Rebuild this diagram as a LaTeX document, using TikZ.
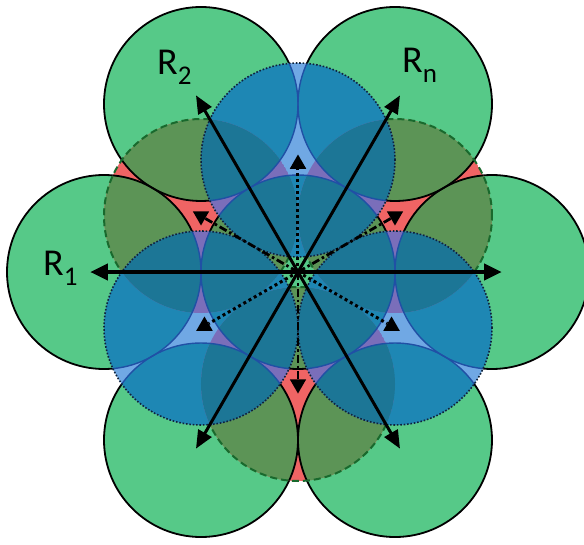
\documentclass[tikz,border=0pt]{standalone}
\usepackage{fontspec}
\setmainfont{Carlito}
\usetikzlibrary{arrows.meta,shapes.geometric}
\definecolor{gfill}{RGB}{86,201,136}
\definecolor{olivef}{RGB}{92,148,86}
\definecolor{redf}{RGB}{240,100,100}
\definecolor{bluef}{RGB}{30,135,180}
\definecolor{lbluef}{RGB}{112,168,228}
\definecolor{purplef}{RGB}{122,110,186}
\definecolor{tealf}{RGB}{28,118,150}
\definecolor{bline}{RGB}{32,80,165}
\definecolor{dashg}{RGB}{25,105,45}
\definecolor{dotb}{RGB}{15,35,60}
\newcommand\allcircles[1]{%
  \path[#1] (0,0) circle (97);
  \foreach \k in {0,60,...,300}{\path[#1] (\k:194) circle (97);}%
}
\newcommand\mysub[1]{\raisebox{-10pt}{\fontsize{27}{30}\selectfont #1}}
\begin{document}
\begin{tikzpicture}[x=1pt,y=1pt,
  lensred/.style={draw=dashg,line width=2pt,dash pattern=on 7pt off 4pt},
  lensblue/.style={draw=dotb,line width=1.6pt,dash pattern=on 1.6pt off 1.8pt},
  redmark/.style={regular polygon,regular polygon sides=3,shape border rotate=180,fill=black,minimum size=19pt,inner sep=0pt},
  bluemark/.style={regular polygon,regular polygon sides=3,fill=black,minimum size=19pt,inner sep=0pt},
  toRed/.style={draw=black,line width=2.8pt,dash pattern=on 8pt off 3pt on 2.5pt off 3pt},
  toBlue/.style={draw=black,line width=3pt,dash pattern=on 3pt off 3pt},
  diag/.style={draw=black,line width=3pt,-{Triangle[length=18pt,width=15pt]}},
  horiz/.style={draw=black,line width=4.5pt,-{Triangle[length=18pt,width=16pt]}},
  lab/.style={anchor=base west,inner sep=0pt,font=\fontsize{38}{40}\selectfont}]
\fill[white] (-298,-272) rectangle (286,272);
\useasboundingbox (-298,-272) rectangle (286,272);
% base circles
\allcircles{fill=gfill}
\allcircles{draw=black,line width=1.8pt}
% red lenses
\foreach \a in {30,150,270}{
  \begin{scope}
    \clip (\a:112) circle (97);
    \fill[redf] (\a:112) circle (97);
    \allcircles{fill=olivef}
    \allcircles{draw=black,line width=1.8pt}
  \end{scope}
}
\foreach \a in {30,150,270}{\draw[lensred] (\a:112) circle (97);}
% blue lenses
\foreach \a in {90,210,330}{
  \begin{scope}
    \clip (\a:112) circle (97);
    \fill[lbluef] (\a:112) circle (97);
    \allcircles{fill=bluef}
    \foreach \b in {30,150,270}{
      \begin{scope}
        \clip (\b:112) circle (97);
        \fill[purplef] (\b:112) circle (97);
        \allcircles{fill=tealf}
      \end{scope}
    }
    \allcircles{draw=bline,line width=1.4pt}
  \end{scope}
}
\foreach \a in {90,210,330}{\draw[lensblue] (\a:112) circle (97);}
% connectors
\coordinate (O) at (0,0);
\foreach \a in {30,150,270}{\node[redmark] (m\a) at (\a:112) {};}
\foreach \a in {90,210,330}{\node[bluemark] (m\a) at (\a:108) {};}
\foreach \a in {30,150,270}{\draw[toRed] (O) -- (m\a);}
\foreach \a in {90,210,330}{\draw[toBlue] (O) -- (m\a);}
\foreach \a in {60,120,240,300}{\coordinate (e\a) at (\a:204); \draw[diag] (O) -- (e\a);}
\coordinate (e0) at (0:204);
\coordinate (e180) at (180:208);
\draw[horiz] (O) -- (e0);
\draw[horiz] (O) -- (e180);
% labels
\node[lab] (l2) at (-141,197) {R\mysub{2}};
\node[lab] (ln) at (104,199) {R\mysub{n}};
\node[lab] (l1) at (-255,-3) {R\mysub{1}};
\end{tikzpicture}
\end{document}
